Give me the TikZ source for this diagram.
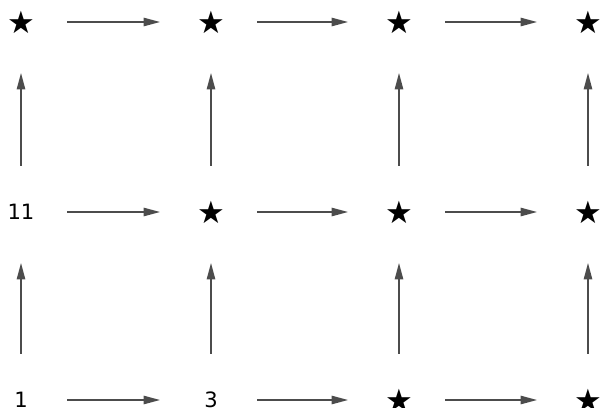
\documentclass[tikz,border=0pt]{standalone}
\usepackage{fontspec}
\setmainfont{DejaVu Sans}
\usetikzlibrary{arrows.meta}

\begin{document}
\begin{tikzpicture}[x=0.025cm,y=-0.025cm,line width=1.8pt,>={Triangle[length=12pt,width=5.7pt]},
  cell/.style={circle,minimum size=2.24cm,inner sep=0pt,font=\fontsize{15}{17}\selectfont},
  starcell/.style={cell,font=\fontsize{22}{24}\selectfont},
  flow/.style={->,black!70,shorten >=0.11cm}]
  \useasboundingbox (0,0) rectangle (601,408);
  % bottom row
  \node[cell] (s00) at (21,400) {1};
  \node[cell] (s10) at (211,400) {3};
  \node[starcell] (s20) at (399,400) {★};
  \node[starcell] (s30) at (588,400) {★};
  % middle row
  \node[cell] (s01) at (21,212) {11};
  \node[starcell] (s11) at (211,212) {★};
  \node[starcell] (s21) at (399,212) {★};
  \node[starcell] (s31) at (588,212) {★};
  % top row
  \node[starcell] (s02) at (21,22) {★};
  \node[starcell] (s12) at (211,22) {★};
  \node[starcell] (s22) at (399,22) {★};
  \node[starcell] (s32) at (588,22) {★};
  % arrows
  \foreach \c in {0,1,2} \foreach \r in {0,1,2} {
    \pgfmathtruncatemacro\nc{\c+1}
    \draw[flow] (s\c\r) -- (s\nc\r);
  }
  \foreach \c in {0,...,3} \foreach \r in {0,1} {
    \pgfmathtruncatemacro\nr{\r+1}
    \draw[flow] (s\c\r) -- (s\c\nr);
  }
\end{tikzpicture}
\end{document}
